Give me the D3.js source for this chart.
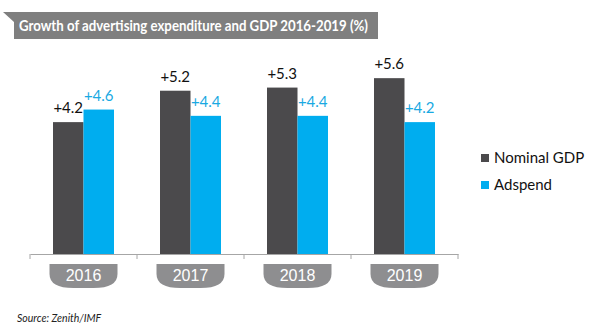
<!DOCTYPE html>
<html>
<head>
<meta charset="utf-8">
<script src="https://cdn.jsdelivr.net/npm/d3@7"></script>
<style>
  body { margin: 0; background: #fff; }
  svg { font-family: Lato, "Open Sans", sans-serif; }
</style>
</head>
<body>
<div class="chart"></div>
<script>
const years = ["2016", "2017", "2018", "2019"];
const series = ["Nominal GDP", "Adspend"];
const gdp = [4.2, 5.2, 5.3, 5.6];
const adspend = [4.6, 4.4, 4.4, 4.2];
const colors = ["#4b4a4c", "#00adef"];
const labelColors = ["#111111", "#19a9e2"];

const svgWidth = 600;
const svgHeight = 330;
const margin = { top: 66, right: 142, bottom: 76, left: 30 };
const width = svgWidth - margin.left - margin.right;
const height = svgHeight - margin.top - margin.bottom;

const svg = d3
  .select(".chart")
  .append("svg")
  .attr("width", svgWidth)
  .attr("height", svgHeight);

// title banner
svg
  .append("path")
  .attr("d", "M3,12 L378,12 L378,39 L14,39 L14,22 Z")
  .attr("fill", "#7f7f7f");
svg
  .append("text")
  .attr("x", 19)
  .attr("y", 31)
  .attr("fill", "#fff")
  .attr("font-weight", "bold")
  .attr("font-size", 15)
  .attr("textLength", 349)
  .attr("lengthAdjust", "spacingAndGlyphs")
  .text("Growth of advertising expenditure and GDP 2016-2019 (%)");

const g = svg
  .append("g")
  .attr("transform", `translate(${margin.left},${margin.top})`);

const x = d3.scaleBand().domain(years).range([0, width]).padding(0);
const x1 = d3.scaleBand().domain(series).range([23, 84]);
const y = d3.scaleLinear().domain([0, 6]).range([height, height - 6 * 31.4]);

const rows = years.map((yr, i) => ({ year: yr, values: [gdp[i], adspend[i]] }));

const groups = g
  .selectAll(".grp")
  .data(rows)
  .enter()
  .append("g")
  .attr("transform", (d) => `translate(${x(d.year)},0)`);

groups
  .selectAll("rect")
  .data((d) => d.values.map((v, j) => ({ v, s: series[j], j })))
  .enter()
  .append("rect")
  .attr("x", (d) => x1(d.s))
  .attr("width", x1.bandwidth())
  .attr("y", (d) => y(d.v))
  .attr("height", (d) => height - y(d.v))
  .attr("fill", (d) => colors[d.j]);

groups
  .selectAll(".lbl")
  .data((d) => d.values.map((v, j) => ({ v, s: series[j], j })))
  .enter()
  .append("text")
  .attr("x", (d) => x1(d.s) + x1.bandwidth() / 2)
  .attr("y", (d) => y(d.v) - 9)
  .attr("text-anchor", "middle")
  .attr("font-size", 15)
  .attr("fill", (d) => labelColors[d.j])
  .text((d) => "+" + d3.format(".1f")(d.v));

// axis
const xAxis = g
  .append("g")
  .attr("transform", `translate(0,${height})`)
  .call(d3.axisBottom(x).tickValues([]).tickSizeOuter(0));
xAxis.select(".domain").attr("stroke", "#a6a6a6");
xAxis
  .selectAll(".sep")
  .data(d3.range(years.length + 1))
  .enter()
  .append("line")
  .attr("x1", (i) => i * x.step())
  .attr("x2", (i) => i * x.step())
  .attr("y1", 0)
  .attr("y2", 5)
  .attr("stroke", "#a6a6a6");

// year pills
const pw = 68, ph = 24;
const pills = xAxis
  .selectAll(".pill")
  .data(years)
  .enter()
  .append("g")
  .attr("transform", (d) => `translate(${x(d) + x.bandwidth() / 2},10)`);
pills
  .append("path")
  .attr(
    "d",
    `M${-pw / 2},0 L${pw / 2},0 L${pw / 2},${ph - 14} Q${pw / 2},${ph} ${pw / 2 - 24},${ph} L${-pw / 2 + 24},${ph} Q${-pw / 2},${ph} ${-pw / 2},${ph - 14} Z`
  )
  .attr("fill", "#8e8e90");
pills
  .append("text")
  .attr("y", 17)
  .attr("text-anchor", "middle")
  .attr("fill", "#fff")
  .attr("font-size", 16)
  .text((d) => d);

// legend
const legend = svg
  .selectAll(".leg")
  .data(series)
  .enter()
  .append("g")
  .attr("transform", (d, i) => `translate(481,${154 + i * 27})`);
legend
  .append("rect")
  .attr("width", 8)
  .attr("height", 8)
  .attr("fill", (d, i) => colors[i]);
legend
  .append("text")
  .attr("x", 13)
  .attr("y", 9)
  .attr("font-size", 15)
  .attr("fill", "#111")
  .text((d) => d);

svg
  .append("text")
  .attr("x", 17)
  .attr("y", 322)
  .attr("font-size", 10.5)
  .attr("font-style", "italic")
  .attr("fill", "#222")
  .text("Source: Zenith/IMF");
</script>
</body>
</html>
